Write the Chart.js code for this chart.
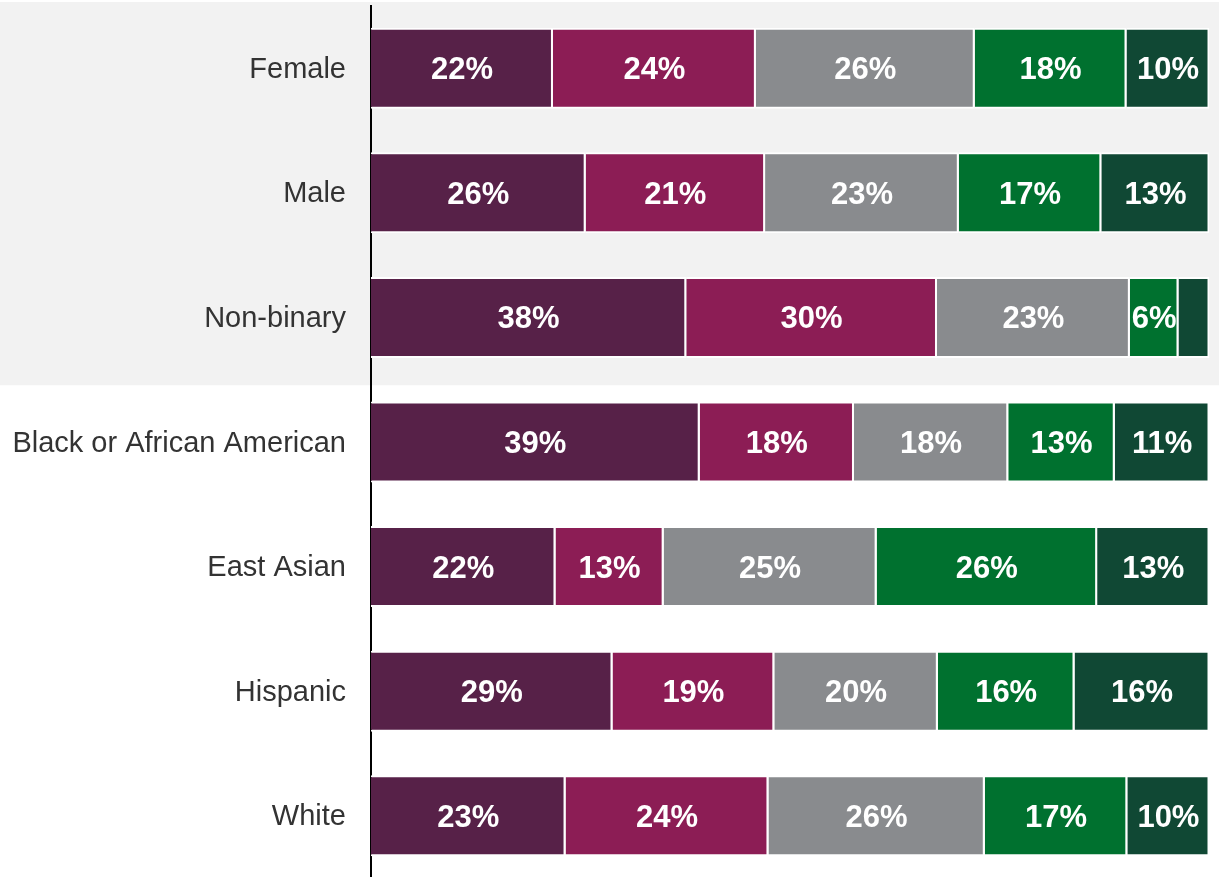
<!DOCTYPE html>
<html><head><meta charset="utf-8">
<style>html,body{margin:0;padding:0;background:#fff;overflow:hidden}
#wrap{width:1219px;height:878px;position:relative}</style>
<script src="https://cdn.jsdelivr.net/npm/chart.js@4.4.1/dist/chart.umd.min.js"></script>
</head><body><div id="wrap"><canvas id="c" width="1219" height="878"></canvas></div>
<script>
const categories = ['Female','Male','Non-binary','Black or African American','East Asian','Hispanic','White'];
const seriesNames = ['Segment 1','Segment 2','Segment 3','Segment 4','Segment 5'];
const s1 = [21.7,25.6,37.6,39.2,22.0,28.8,23.2];
const s2 = [24.2,21.4,29.9,18.4,12.9,19.3,24.2];
const s3 = [26.1,23.1,23.0,18.4,25.4,19.5,25.8];
const s4 = [18.1,17.0,5.8,12.7,26.3,16.3,17.0];
const s5 = [9.9,12.9,3.7,11.3,13.4,16.1,9.8];
const seriesValues = [s1,s2,s3,s4,s5];
const colors = ['#572148','#8C1D55','#898B8E','#00712F','#104834'];
const FONT = '"Liberation Sans", Arial, sans-serif';

const bgPlugin = {
  id:'bg',
  beforeDraw(chart){
    const ctx = chart.ctx, y = chart.scales.y;
    ctx.save();
    ctx.fillStyle = '#ffffff';
    ctx.fillRect(0,0,chart.width,chart.height);
    const bottom = (y.getPixelForValue(2)+y.getPixelForValue(3))/2 + 5.5;
    ctx.fillStyle = '#f2f2f2';
    ctx.fillRect(0,2,chart.width,bottom-2);
    ctx.restore();
  }
};
const labelPlugin = {
  id:'vlabels',
  afterDatasetsDraw(chart){
    const ctx = chart.ctx;
    ctx.save();
    ctx.font = 'bold 31px ' + FONT;
    ctx.fillStyle = '#ffffff';
    ctx.textAlign = 'center';
    ctx.textBaseline = 'middle';
    chart.data.datasets.forEach((ds,di)=>{
      const meta = chart.getDatasetMeta(di);
      meta.data.forEach((el,i)=>{
        const v = ds.data[i];
        if (v < 5) return;
        const p = el.getProps(['x','y','base'],true);
        ctx.fillText(Math.round(v)+'%', (p.x+p.base)/2, p.y+2.5);
      });
    });
    ctx.restore();
  }
};

new Chart(document.getElementById('c'),{
  type:'bar',
  data:{
    labels:categories,
    datasets:seriesValues.map((vals,i)=>({
      label:seriesNames[i],
      data:vals,
      backgroundColor:colors[i],
      borderColor:'#ffffff',
      borderWidth:2,
      borderSkipped:'start',
      barPercentage:0.65,
      categoryPercentage:1
    }))
  },
  options:{
    indexAxis:'y',
    responsive:false,
    animation:false,
    devicePixelRatio:1,
    layout:{padding:{top:6,right:9.5,bottom:0,left:0}},
    plugins:{legend:{display:false},tooltip:{enabled:false}},
    scales:{
      x:{stacked:true,min:0,max:100,display:false},
      y:{
        stacked:true,
        grid:{display:false,drawTicks:false},
        border:{display:true,color:'#000000',width:2},
        ticks:{padding:25,labelOffset:1.5,color:'#333333',font:{family:FONT,size:29}},
        afterFit(scale){scale.width = 371; scale.paddingTop = 0; scale.paddingBottom = 0;}
      }
    }
  },
  plugins:[bgPlugin,labelPlugin]
});
</script></body></html>
